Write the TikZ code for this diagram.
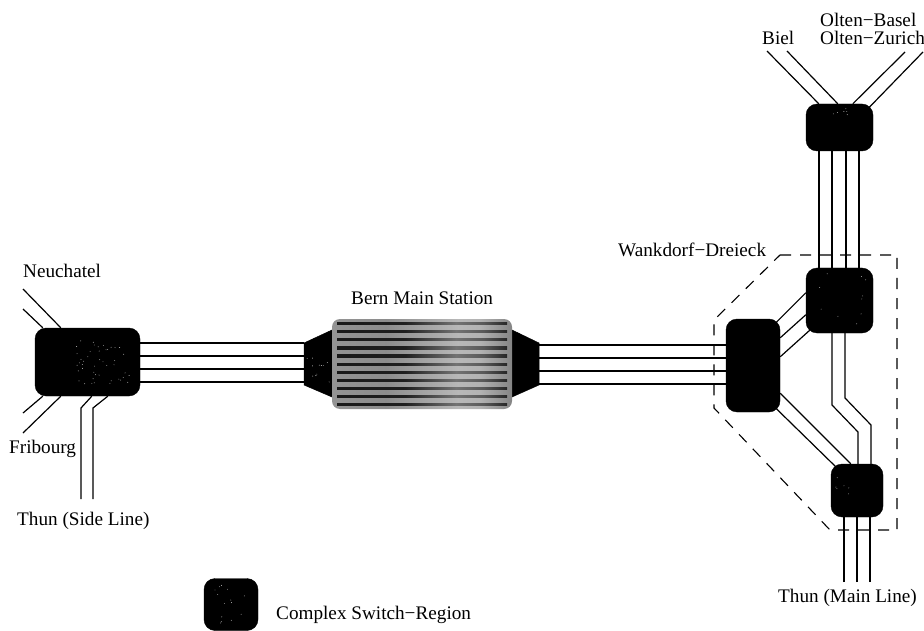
\documentclass[tikz,border=0pt]{standalone}
\usepackage{fontspec}
\setmainfont{Liberation Serif}
\usetikzlibrary{calc}
\tikzset{
  sw/.style={draw=black,fill=black,rounded corners=11pt,inner sep=0pt,minimum width=#1},
  track/.style={line width=1.2pt,draw=black},
  dashbox/.style={line width=1.1pt,dash pattern=on 11pt off 9pt},
  lab/.style={font=\fontsize{19.2}{21}\selectfont,inner sep=0pt,anchor=base west},
  flank/.style={draw=black,fill=black,line width=0.5pt},
  speck/.style={fill=white!75!black},
}
\pgfdeclarehorizontalshading{stshade}{100bp}{color(0bp)=(black!42); color(25bp)=(black!42); color(40bp)=(black!45); color(60bp)=(black!28); color(66bp)=(black!30); color(75bp)=(black!48); color(100bp)=(black!48)}
\pgfdeclarehorizontalshading{railshade}{100bp}{color(0bp)=(black!90); color(25bp)=(black!90); color(45bp)=(black!88); color(60bp)=(black!55); color(68bp)=(black!65); color(75bp)=(black!85); color(100bp)=(black!85)}
\begin{document}
\begin{tikzpicture}[x=1pt,y=-1pt]
\useasboundingbox (0,0) rectangle (924,631);
% switch regions
\node[sw=105pt,minimum height=68pt] (swL) at (87.5,362) {};
\node[sw=54pt,minimum height=93pt] (swW) at (753,365.5) {};
\node[sw=67pt,minimum height=47pt] (swT) at (839.5,127.5) {};
\node[sw=67pt,minimum height=65pt] (swM) at (839.5,300.5) {};
\node[sw=52pt,minimum height=53pt] (swB) at (857,490.5) {};
\node[sw=54pt,minimum height=52pt] (swK) at (231,604.5) {};
% station
\node[minimum width=180pt,minimum height=90pt,inner sep=0pt] (st) at (422,364) {};
\coordinate (flankW) at (304,364);
\coordinate (flankE) at (539,364);
\draw[flank] (304,343) -- (332,330) -- (332,397) -- (304,385) -- cycle;
\draw[flank] (539,343) -- (512,330) -- (512,397) -- (539,385) -- cycle;
\shade[rounded corners=8pt,shading=stshade] (332,319) rectangle (512,409);
\foreach \i in {0,...,10}
  \shade[shading=railshade] (337,{322.5+8.1*\i}) rectangle (507,{324.7+8.1*\i});
% free ends
\coordinate (n1) at (23,289);
\coordinate (n2) at (23,309);
\coordinate (f1) at (23,413);
\coordinate (f2) at (23,433);
\coordinate (t1) at (81,499);
\coordinate (t2) at (93,499);
\coordinate (b1) at (767,51);
\coordinate (b2) at (787,51);
\coordinate (o1) at (905,52);
\coordinate (o2) at (923,52);
\coordinate (m1) at (844,582);
\coordinate (m2) at (857,582);
\coordinate (m3) at (870,582);
% left connectors
\draw[track] (n1) -- ([xshift=26pt]swL.north west);
\draw[track] (n2) -- ([xshift=8pt]swL.north west);
\draw[track] (f1) -- ([xshift=8pt]swL.south west);
\draw[track] (f2) -- ([xshift=26pt]swL.south west);
\draw[track] (t1) -- (81,408) -- ([xshift=57pt]swL.south west);
\draw[track] (t2) -- (93,408) -- ([xshift=73pt]swL.south west);
\foreach \d in {19,6,-7,-20}
  \draw[track] ([yshift=\d pt]swL.east) -- ([yshift=\d pt]swL.east -| flankW);
\foreach \d in {19,6,-7,-20}
  \draw[track] ([yshift=\d pt]flankE) -- ([yshift=\d pt]flankE -| swW.west);
% top connectors
\draw[track] (b1) -- ([xshift=13pt]swT.north west);
\draw[track] (b2) -- ([xshift=32pt]swT.north west);
\draw[track] (o1) -- ([xshift=47pt]swT.north west);
\draw[track] (o2) -- ([yshift=-4pt,xshift=63pt]swT.north west);
\foreach \d in {-20.5,-7.5,6.5,19.5}
  \draw[track] ([xshift=\d pt]swT.south) -- ([xshift=\d pt]swM.north);
% Wankdorf triangle
\draw[track] ([xshift=50pt,yshift=-4pt]swW.north west) -- ([yshift=-25pt]swM.north west);
\draw[track] ([yshift=-19pt]swW.north east) -- ([yshift=-47pt]swM.north west);
\draw[track] ([yshift=-38pt]swW.north east) -- ([xshift=4pt,yshift=3pt]swM.south west);
\draw[track] ([yshift=19pt]swW.south east) -- ([xshift=20pt]swB.north west);
\draw[track] ([xshift=49pt,yshift=5pt]swW.south west) -- ([xshift=5pt,yshift=-3pt]swB.north west);
\draw[track] ([xshift=-7.5pt]swM.south) -- (832,405) -- (858,432) -- ([xshift=1pt]swB.north);
\draw[track] ([xshift=5.5pt]swM.south) -- (845,398) -- (871,425) -- ([xshift=14pt]swB.north);
\draw[track] (m1) -- ([xshift=-13pt]swB.south);
\draw[track] (m2) -- (swB.south);
\draw[track] (m3) -- ([xshift=13pt]swB.south);
% dashed region
\draw[dashbox] (780,255) -- (897,255) -- (897,530) -- (830,530) -- (714,408) -- (714,320) -- cycle;
% speckle of the dark regions
\pgfmathsetseed{7}
\foreach \i in {1,...,45}
  \fill[speck] ({75+rnd*55},{340+rnd*45}) circle (0.45);
\foreach \i in {1,...,14}
  \fill[speck] ({215+rnd*36},{585+rnd*38}) circle (0.45);
\foreach \i in {1,...,12}
  \fill[speck] ({306+rnd*24},{355+rnd*30}) circle (0.45);
\foreach \i in {1,...,10}
  \fill[speck] ({812+rnd*55},{272+rnd*55}) circle (0.45);
\foreach \i in {1,...,6}
  \fill[speck] ({825+rnd*30},{107+rnd*8}) circle (0.45);
\foreach \i in {1,...,6}
  \fill[speck] ({835+rnd*20},{470+rnd*25}) circle (0.45);
% labels
\node[lab] (lNeu) at (23,277) {Neuchatel};
\node[lab] (lFri) at (9,453) {Fribourg};
\node[lab] (lThS) at (17,525) {Thun (Side Line)};
\node[lab] (lBern) at (351,305) {Bern Main Station};
\node[lab] (lWan) at (618,257) {Wankdorf−Dreieck};
\node[lab] (lBiel) at (762,45) {Biel};
\node[lab] (lOB) at (820,27) {Olten−Basel};
\node[lab] (lOZ) at (820,45) {Olten−Zurich};
\node[lab] (lThM) at (778,602) {Thun (Main Line)};
\node[lab] (lCx) at (276,619) {Complex Switch−Region};
\end{tikzpicture}
\end{document}
